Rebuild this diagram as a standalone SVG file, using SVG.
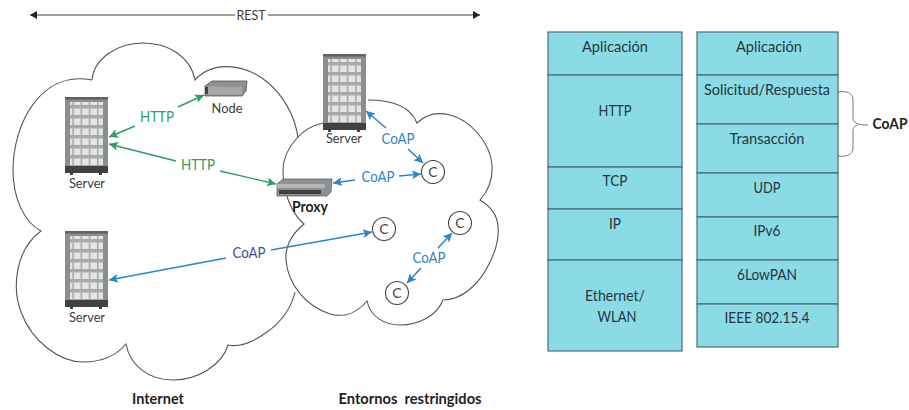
<svg xmlns="http://www.w3.org/2000/svg" width="909" height="410" viewBox="0 0 909 410">
<style>
text{font-family:"Lato","Liberation Sans",sans-serif;text-anchor:middle}
.cloud{fill:none;stroke:#555;stroke-width:1.1}
.lbl{font-size:14px;fill:#3c3c3c}
.g{font-size:15px;fill:#2f9e5f}
.b{font-size:15px;fill:#2f86c6}
.bd{font-size:15px;fill:#3f4f98}
.gl{fill:none;stroke:#2f9e5f;stroke-width:1.4;marker-end:url(#ag)}
.bl{fill:none;stroke:#2b86c8;stroke-width:1.6;marker-end:url(#ab)}
.rest{fill:none;stroke:#444;stroke-width:1}
.brace{fill:none;stroke:#777;stroke-width:1}
.bold{font-size:15px;font-weight:700;fill:#1e1e1e}
.cell{fill:#8adbe6;stroke:#4b6b76;stroke-width:1.2}
.t{font-size:16px;fill:#24363c}
.c{fill:#fff;stroke:#444;stroke-width:1.1}
.ct{font-size:14px;fill:#444}
</style>
<defs>
<marker id="ag" markerUnits="userSpaceOnUse" markerWidth="12" markerHeight="10" refX="9" refY="4.5" orient="auto"><path d="M0 0L9 4.5L0 9L2 4.5Z" fill="#2f9e5f"/></marker>
<marker id="ab" markerUnits="userSpaceOnUse" markerWidth="12" markerHeight="10" refX="9" refY="4.5" orient="auto"><path d="M0 0L9 4.5L0 9L2 4.5Z" fill="#2b86c8"/></marker>
<marker id="ak" markerUnits="userSpaceOnUse" markerWidth="12" markerHeight="10" refX="7" refY="4" orient="auto"><path d="M0 0L7 4L0 8Z" fill="#222"/></marker>
<pattern id="bricks" width="8.2" height="10" patternUnits="userSpaceOnUse"><rect width="8.2" height="10" fill="#a9a9a9"/><rect x="0.8" y="1.5" width="6.6" height="6.5" fill="#e4e6e6"/></pattern>
<g id="rack">
<rect x="0" y="0" width="43" height="71" fill="#8b8d8f"/>
<rect x="0" y="0" width="43" height="2.5" fill="#5f6163"/>
<rect x="5" y="5" width="33" height="66" fill="url(#bricks)"/>
<rect x="0" y="69" width="43" height="7" fill="#3f4142"/>
<rect x="5" y="76" width="3" height="2" fill="#3f4142"/>
<rect x="34" y="76" width="3" height="2" fill="#3f4142"/>
</g>
</defs>

<g id="cloud-internet">
<path class="cloud" d="M92 80C94 58 118 43 143 43C170 43 191 58 195 80C210 63 238 62 262 78C282 92 295 115 298 138"/>
<path class="cloud" d="M295 292C292 306 282 322 267 332C256 340 242 348 228 345C222 365 198 380 173 380C148 380 130 365 126 344C116 356 100 362 83 362C60 362 32 342 21 312C12 288 15 250 41 231C24 222 13 198 13 170C13 125 40 70 92 80"/>
</g>
<g id="cloud-restringido">
<path class="cloud" d="M323 123C310 126 303 131 297 138C288 148 283 158 283 170C283 190 290 212 304 224C292 234 285 246 286 260C288 285 306 306 330 314C345 318 358 312 367 301C370 316 384 325 400 325C418 325 437 316 443 300C462 300 480 284 490 262C497 248 499 236 498 226C497 214 490 206 480 200C489 190 493 178 492 165C490 142 470 120 450 115C438 112 426 114 417 123C411 108 394 100 368 100"/>
</g>

<g id="connectors">
<path class="rest" d="M235 15H30" marker-end="url(#ak)"/>
<path class="rest" d="M268 15H480" marker-end="url(#ak)"/>
<path class="gl" d="M135 126L109 137"/>
<path class="gl" d="M178 107L204 95"/>
<path class="gl" d="M176 161L109 144"/>
<path class="gl" d="M220 171L276 184"/>
<path class="bl" d="M386 128L366 111"/>
<path class="bl" d="M408 149L423 163"/>
<path class="bl" d="M355 180L333 183"/>
<path class="bl" d="M399 176L421 174"/>
<path class="bl" d="M226 258L109 280"/>
<path class="bl" d="M271 250L372 232"/>
<path class="bl" d="M438 248L452 233"/>
<path class="bl" d="M421 268L407 283"/>
<path class="brace" d="M838 92C846 91 853 92 853 100V118C853 122 856 125 868 125M858 125C854 126 853 128 853 132V148C853 155 846 157 838 156"/>
</g>

<g id="rest-label"><text class="lbl" x="251" y="20" textLength="29" lengthAdjust="spacingAndGlyphs">REST</text></g>

<g id="server-1"><use href="#rack" x="65" y="97"/><text class="lbl" x="87" y="188" textLength="36" lengthAdjust="spacingAndGlyphs">Server</text></g>
<g id="server-2"><use href="#rack" x="65" y="231"/><text class="lbl" x="87" y="322" textLength="36" lengthAdjust="spacingAndGlyphs">Server</text></g>
<g id="server-3"><use href="#rack" x="323" y="54"/><text class="lbl" x="344" y="143" textLength="36" lengthAdjust="spacingAndGlyphs">Server</text></g>

<g id="node">
<path d="M205 86L212 81H247L246 91L242 96H205Z" fill="#8e9092" stroke="#444" stroke-width="0.7"/>
<path d="M207 87C218 84 226 90 242 86V95H207Z" fill="#a5a7a8"/>
<rect x="205" y="87" width="3" height="7" fill="#444"/>
<text class="lbl" x="227" y="113" textLength="31" lengthAdjust="spacingAndGlyphs">Node</text>
</g>
<g id="proxy">
<path d="M277 184L283 179H332L331 192L327 196H277Z" fill="#8e9092" stroke="#555" stroke-width="0.7"/>
<rect x="279" y="190" width="42" height="4" fill="#3e3e40"/>
<rect x="277" y="184" width="48" height="4" fill="#b5b6b7"/>
<text class="bold" x="310" y="212" textLength="36" lengthAdjust="spacingAndGlyphs">Proxy</text>
</g>

<g id="c-1"><circle class="c" cx="433" cy="172" r="11.5"/><text class="ct" x="433" y="177">C</text></g>
<g id="c-2"><circle class="c" cx="384" cy="229" r="11.5"/><text class="ct" x="384" y="234">C</text></g>
<g id="c-3"><circle class="c" cx="460" cy="223" r="11.5"/><text class="ct" x="460" y="228">C</text></g>
<g id="c-4"><circle class="c" cx="397" cy="293" r="11.5"/><text class="ct" x="397" y="298">C</text></g>

<g id="labels">
<text class="g" x="157" y="122" textLength="34" lengthAdjust="spacingAndGlyphs">HTTP</text>
<text class="g" x="198" y="170" textLength="34" lengthAdjust="spacingAndGlyphs">HTTP</text>
<text class="b" x="398" y="144" textLength="33" lengthAdjust="spacingAndGlyphs">CoAP</text>
<text class="b" x="378" y="182" textLength="33" lengthAdjust="spacingAndGlyphs">CoAP</text>
<text class="bd" x="249" y="258" textLength="33" lengthAdjust="spacingAndGlyphs">CoAP</text>
<text class="b" x="429" y="263" textLength="33" lengthAdjust="spacingAndGlyphs">CoAP</text>
<text class="bold" x="158" y="404" textLength="52" lengthAdjust="spacingAndGlyphs">Internet</text>
<text class="bold" x="410" y="404" textLength="143" lengthAdjust="spacingAndGlyphs" xml:space="preserve">Entornos  restringidos</text>
<text class="bold" x="890" y="129" textLength="35" lengthAdjust="spacingAndGlyphs">CoAP</text>
</g>

<g id="stack-http">
<rect class="cell" x="548" y="32" width="134" height="43"/><text class="t" x="615" y="52" textLength="66" lengthAdjust="spacingAndGlyphs">Aplicación</text>
<rect class="cell" x="548" y="75" width="134" height="92"/><text class="t" x="615" y="116" textLength="33" lengthAdjust="spacingAndGlyphs">HTTP</text>
<rect class="cell" x="548" y="167" width="134" height="42"/><text class="t" x="615" y="186" textLength="25" lengthAdjust="spacingAndGlyphs">TCP</text>
<rect class="cell" x="548" y="209" width="134" height="51"/><text class="t" x="615" y="229" textLength="12" lengthAdjust="spacingAndGlyphs">IP</text>
<rect class="cell" x="548" y="260" width="134" height="91"/><text class="t" x="615" y="301" textLength="60" lengthAdjust="spacingAndGlyphs">Ethernet/</text><text class="t" x="617" y="322" textLength="39" lengthAdjust="spacingAndGlyphs">WLAN</text>
</g>
<g id="stack-coap">
<rect class="cell" x="697" y="32" width="141" height="43"/><text class="t" x="769" y="52" textLength="66" lengthAdjust="spacingAndGlyphs">Aplicación</text>
<rect class="cell" x="697" y="75" width="141" height="49"/><text class="t" x="767" y="95" textLength="126" lengthAdjust="spacingAndGlyphs">Solicitud/Respuesta</text>
<rect class="cell" x="697" y="124" width="141" height="49"/><text class="t" x="767" y="144" textLength="75" lengthAdjust="spacingAndGlyphs">Transacción</text>
<rect class="cell" x="697" y="173" width="141" height="44"/><text class="t" x="767" y="193" textLength="27" lengthAdjust="spacingAndGlyphs">UDP</text>
<rect class="cell" x="697" y="217" width="141" height="43"/><text class="t" x="767" y="236" textLength="27" lengthAdjust="spacingAndGlyphs">IPv6</text>
<rect class="cell" x="697" y="260" width="141" height="44"/><text class="t" x="767" y="280" textLength="60" lengthAdjust="spacingAndGlyphs">6LowPAN</text>
<rect class="cell" x="697" y="304" width="141" height="43"/><text class="t" x="767" y="323" textLength="85" lengthAdjust="spacingAndGlyphs">IEEE 802.15.4</text>
</g>
</svg>
